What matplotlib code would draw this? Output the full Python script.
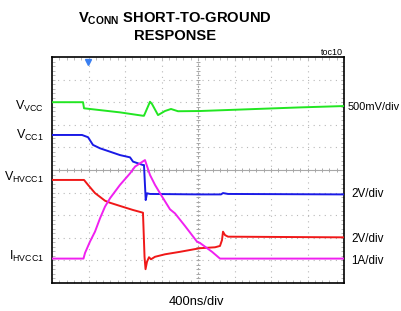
import numpy as np
import matplotlib
matplotlib.use("Agg")
import matplotlib.pyplot as plt

FONT = 'Liberation Sans'
plt.rcParams['font.family'] = [FONT, 'DejaVu Sans']
plt.rcParams['mathtext.fontset'] = 'custom'
plt.rcParams['mathtext.rm'] = FONT
plt.rcParams['mathtext.bf'] = FONT + ':bold'
plt.rcParams['mathtext.it'] = FONT

# ---- data (time in ns, value in screen divisions) ----
vvcc_t = [0, 340, 351, 526, 745, 997, 1008, 1074, 1096, 1162, 1238, 1304, 1381, 1622, 2170, 2718, 3200]
vvcc_v = [8.00, 8.00, 7.73, 7.65, 7.55, 7.40, 7.40, 8.02, 7.92, 7.43, 7.61, 7.70, 7.60, 7.61, 7.69, 7.77, 7.83]

vcc1_t = [0, 329, 395, 449, 526, 636, 745, 855, 888, 997, 1008, 1027, 1041, 1074, 1622, 1852, 1874, 1929, 3200]
vcc1_v = [6.55, 6.55, 6.45, 6.11, 5.96, 5.81, 5.66, 5.56, 5.37, 5.22, 5.22, 3.67, 3.97, 3.94, 3.92, 3.92, 3.98, 3.94, 3.92]

vhv_t = [0, 351, 395, 471, 581, 636, 745, 888, 997, 1014, 1025, 1041, 1063, 1085, 1129, 1238, 1403, 1622, 1786, 1841, 1863, 1874, 1896, 1929, 3200]
vhv_v = [4.56, 4.56, 4.34, 3.98, 3.64, 3.55, 3.41, 3.23, 3.11, 1.16, 0.61, 0.94, 1.14, 1.05, 1.16, 1.27, 1.38, 1.54, 1.58, 1.64, 1.90, 2.27, 2.12, 2.05, 2.02]

ihv_t = [0, 345, 362, 416, 471, 526, 581, 636, 745, 855, 910, 1019, 1074, 1129, 1184, 1293, 1348, 1458, 1589, 1622, 1754, 1841, 3200]
ihv_v = [1.08, 1.08, 1.33, 1.83, 2.27, 2.86, 3.38, 3.75, 4.34, 4.85, 5.15, 5.44, 4.78, 4.34, 3.97, 3.26, 3.08, 2.52, 1.83, 1.77, 1.38, 1.08, 1.08]

left_main = ['V', 'V', 'V', 'I']
left_sub = ['VCC', 'CC1', 'HVCC1', 'HVCC1']
right_labels = ['500mV/div', '2V/div', '2V/div', '1A/div']
time_label = '400ns/div'
trigger_t = 395

W, H = 401, 311
fig = plt.figure(figsize=(W / 100, H / 100), dpi=100)
fig.patch.set_facecolor('white')

def px(x, y):
    return x / W, 1 - y / H

L, R, T, B = 52, 344, 57, 283
ax = fig.add_axes([L / W, 1 - B / H, (R - L) / W, (B - T) / H])
ax.set_xlim(0, 3200)
ax.set_ylim(0, 10)

# grid
for xv in np.arange(400, 3200, 400):
    if xv == 1600:
        continue
    ax.axvline(xv, color='#b8b8b8', lw=0.8, ls=(0, (1, 4)), zorder=1)
for yv in np.arange(1, 10):
    if yv == 5:
        continue
    ax.axhline(yv, color='#b8b8b8', lw=0.8, ls=(0, (1, 4)), zorder=1)
ax.axhline(5, color='#a8a8a8', lw=0.8, zorder=1)
ax.axvline(1600, color='#a8a8a8', lw=0.8, ls=(0, (2, 2)), zorder=1)
mt = np.arange(80, 3200, 80)
ax.plot(mt, np.full_like(mt, 5.0, dtype=float), ls='none', marker='|', ms=3, mew=0.7, color='#a8a8a8', zorder=1)
my = np.arange(0.2, 10, 0.2)
ax.plot(np.full_like(my, 1600.0), my, ls='none', marker='_', ms=3, mew=0.7, color='#a8a8a8', zorder=1)

# traces
lw = 1.4
ax.plot(vvcc_t, vvcc_v, color='#22e622', lw=lw, zorder=3)
ax.plot(vcc1_t, vcc1_v, color='#1a1ae6', lw=lw, zorder=3)
ax.plot(vhv_t, vhv_v, color='#f01818', lw=lw, zorder=3)
ax.plot(ihv_t, ihv_v, color='#f020f0', lw=lw, zorder=4)

ax.plot([trigger_t], [9.78], marker='v', ms=4.5, color='#3a7ff0', clip_on=False, zorder=5)

ax.set_xticks(np.arange(0, 3201, 400))
ax.set_yticks(np.arange(0, 11, 1))
ax.set_xticks(np.arange(0, 3201, 80), minor=True)
ax.set_yticks(np.arange(0, 10.01, 0.2), minor=True)
ax.tick_params(which='both', direction='in', top=True, right=True, labelbottom=False, labelleft=False,
               color='#b0b0b0', length=2.5, width=0.6)
for s in ax.spines.values():
    s.set_linewidth(1.2)
    s.set_color('black')

left_base = [110, 139, 181, 260]
for m, s, yb in zip(left_main, left_sub, left_base):
    fig.text(*px(44, yb), r'$\mathrm{%s}_{\mathrm{%s}}$' % (m, s), ha='right', va='baseline', fontsize=9)

right_y = [107, 194, 239, 261]
right_x = [348, 351, 351, 351]
right_fs = [7.9, 8.4, 8.4, 8.4]
for lab, xx, yy, fs in zip(right_labels, right_x, right_y, right_fs):
    fig.text(*px(xx, yy), lab, ha='left', va='center', fontsize=fs)

fig.text(*px(196, 302), time_label, ha='center', va='center', fontsize=9.3)
fig.text(*px(343, 55), 'toc10', ha='right', va='baseline', fontsize=6.5)

fig.text(*px(174.5, 22.5), r'$\mathbf{V_{CONN}}$ SHORT-TO-GROUND', ha='center', va='baseline',
         fontsize=10.6, fontweight='bold')
fig.text(*px(175, 39.5), 'RESPONSE', ha='center', va='baseline', fontsize=10.6, fontweight='bold')

fig.savefig('out.png', dpi=100)
